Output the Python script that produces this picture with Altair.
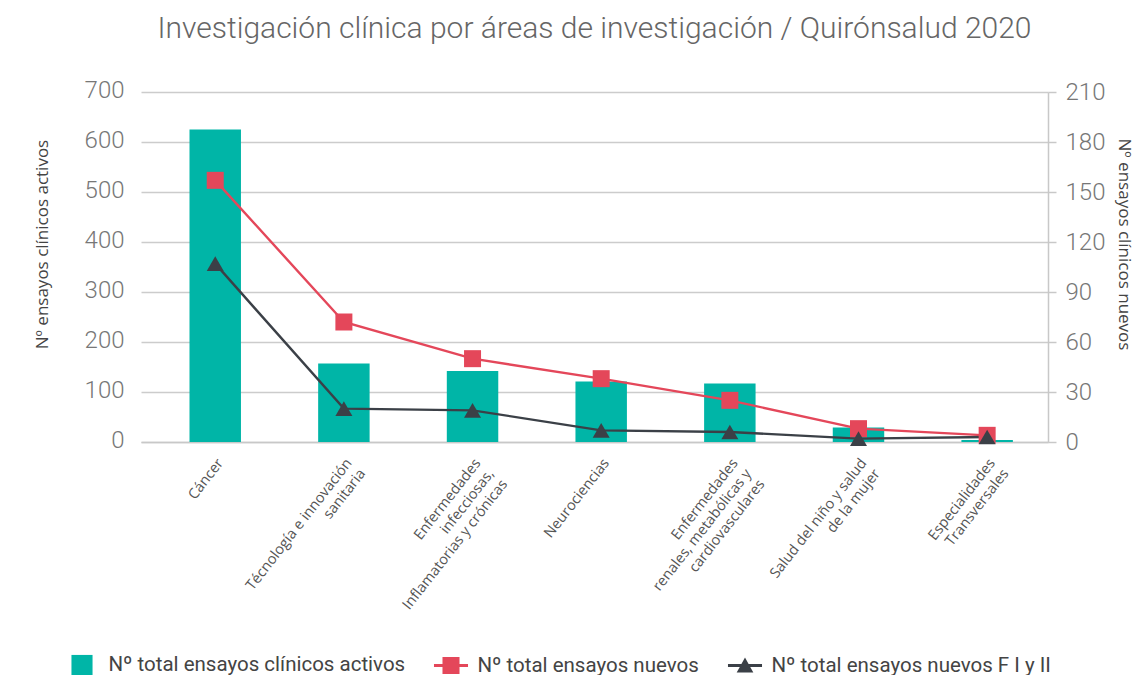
import altair as alt
import pandas as pd

categories = [
    "Cáncer",
    "Técnología e innovación|sanitaria",
    "Enfermedades|infecciosas,|Inflamatorias y crónicas",
    "Neurociencias",
    "Enfermedades|renales, metabólicas y|cardiovasculares",
    "Salud del niño y salud|de la mujer",
    "Especialidades|Transversales",
]
activos = [625, 157, 142, 121, 117, 29, 4]
nuevos = [157, 72, 50, 38, 25, 8, 4]
nuevos_f12 = [107, 20, 19, 7, 6, 2, 3]
series = [
    "Nº total ensayos clínicos activos",
    "Nº total ensayos nuevos",
    "Nº total ensayos nuevos F I y II",
]
colors = ["#00b5a7", "#e4475a", "#3b4047"]
legend_shapes = [
    "M-0.57,-0.57H0.57V0.57H-0.57Z",
    "M-0.92,-0.08H-0.46V-0.46H0.46V-0.08H0.92V0.08H0.46V0.46H-0.46V0.08H-0.92Z",
    "M-0.92,-0.08H-0.194L0,-0.43L0.194,-0.08H0.92V0.08H0.283L0.45,0.38H-0.45L-0.283,0.08H-0.92Z",
]

df_bar = pd.DataFrame({
    "cat": categories,
    "value": activos,
    "series": series[0],
    "idx": list(range(len(categories))),
})
rows = []
for s, vals in ((series[1], nuevos), (series[2], nuevos_f12)):
    for i, (c, v) in enumerate(zip(categories, vals)):
        rows.append({"cat": c, "value": v, "series": s, "idx": i})
df_line = pd.DataFrame(rows)

legend_props = dict(
    title=None,
    symbolSize=1369,
    symbolStrokeWidth=0,
    labelFont="Roboto",
    labelFontSize=20.5,
    labelColor="#444444",
    labelOffset=8,
    labelLimit=400,
)

x_enc = alt.X(
    "cat:N",
    sort=categories,
    scale=alt.Scale(paddingInner=0.6, paddingOuter=0.325, align=0.58),
    axis=alt.Axis(
        title=None,
        labelAngle=-52,
        labelAlign="right",
        labelBaseline="top",
        labelExpr="split(datum.label, '|')",
        labelFont="Open Sans",
        labelFontSize=14.5,
        labelColor="#555555",
        labelLineHeight=17,
        labelPadding=14,
        ticks=False,
        domain=True,
        domainColor="#c8c8c8",
        domainWidth=1.5,
    ),
)

color_enc = alt.Color(
    "series:N",
    scale=alt.Scale(domain=series, range=colors),
    legend=alt.Legend(**legend_props),
)

bars = alt.Chart(df_bar).mark_bar().encode(
    x=x_enc,
    y=alt.Y(
        "value:Q",
        scale=alt.Scale(domain=[0, 700]),
        axis=alt.Axis(
            title="Nº ensayos clínicos activos",
            values=list(range(0, 701, 100)),
            grid=True,
            gridColor="#cccccc",
            gridWidth=1.5,
            domain=False,
            ticks=False,
            labelFont="Roboto",
            labelFontWeight=300,
            labelFontSize=24,
            labelColor="#777777",
            labelPadding=17,
            labelOffset=-2,
            titleFont="Open Sans",
            titleFontSize=17,
            titleFontWeight="normal",
            titleColor="#444444",
            titlePadding=33,
            titleY=152,
        ),
    ),
    color=color_enc,
)

y_right = alt.Y(
    "value:Q",
    scale=alt.Scale(domain=[0, 210]),
    axis=alt.Axis(
        orient="right",
        title="Nº ensayos clínicos nuevos",
        values=list(range(0, 211, 30)),
        grid=False,
        domain=True,
        domainColor="#c8c8c8",
        domainWidth=1.5,
        ticks=True,
        tickSize=8,
        tickColor="#c8c8c8",
        tickWidth=1.5,
        labelFont="Roboto",
        labelFontWeight=300,
        labelFontSize=24,
        labelColor="#777777",
        labelPadding=9,
        titleFont="Open Sans",
        titleFontSize=17,
        titleFontWeight="normal",
        titleColor="#444444",
        titlePadding=10,
        titleY=152,
    ),
)

lines = alt.Chart(df_line).mark_line(strokeWidth=2.4).encode(
    x=x_enc,
    y=y_right,
    color=color_enc,
    order=alt.Order("idx:Q"),
)

pts_red = alt.Chart(df_line).transform_filter(
    alt.datum.series == series[1]
).mark_point(filled=True, shape="square", size=289, opacity=1, color=colors[1]).encode(
    x=x_enc, y=y_right
)

pts_black = alt.Chart(df_line).transform_filter(
    alt.datum.series == series[2]
).mark_point(filled=True, shape="triangle-up", size=289, opacity=1, color=colors[2]).encode(
    x=x_enc, y=y_right
)

# carries the legend symbols only (no rows drawn)
legend_layer = alt.Chart(df_line).transform_filter("false").mark_point(
    filled=True, opacity=1
).encode(
    x=x_enc,
    y=y_right,
    color=color_enc,
    shape=alt.Shape(
        "series:N",
        scale=alt.Scale(domain=series, range=legend_shapes),
        legend=alt.Legend(**legend_props),
    ),
)

chart = (
    alt.layer(bars, alt.layer(lines, pts_red, pts_black, legend_layer))
    .resolve_scale(y="independent")
    .properties(
        width=907,
        height=350,
        autosize=alt.AutoSizeParams(type="none"),
        padding={"left": 133, "top": 84, "right": 89, "bottom": 233},
        title=alt.Title(
            "Investigación clínica por áreas de investigación / Quirónsalud 2020",
            font="Roboto",
            fontWeight=300,
            fontSize=30,
            color="#666666",
            anchor="middle",
            frame="group",
            offset=34,
        ),
    )
    .configure_view(stroke=None)
    .configure_legend(
        orient="none",
        legendX=-77.5,
        legendY=554.5,
        direction="horizontal",
        columnPadding=27,
    )
)

chart.save("out.html", embed_options={"renderer": "svg", "actions": False})
